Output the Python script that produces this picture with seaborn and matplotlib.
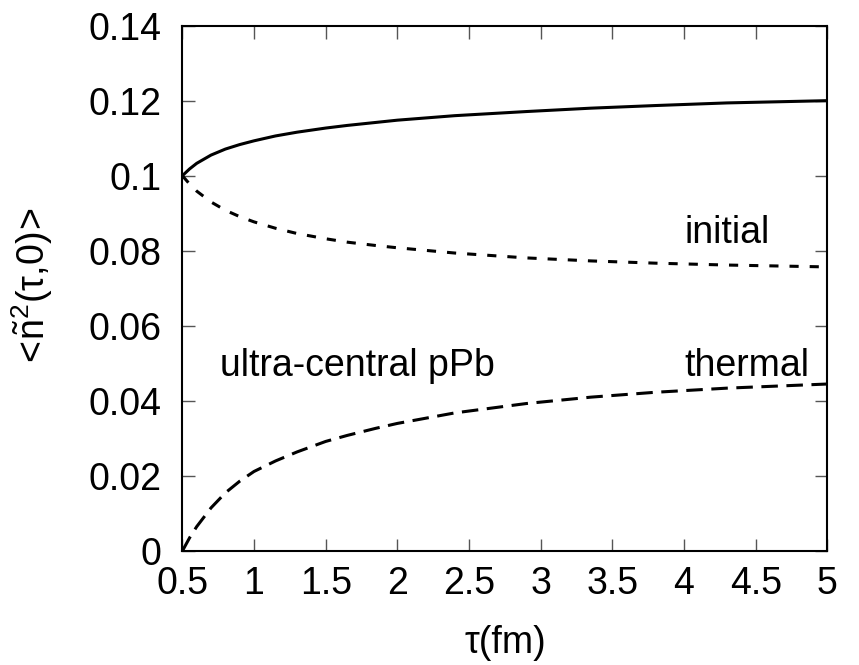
import matplotlib
matplotlib.use("Agg")
import matplotlib.pyplot as plt
import seaborn as sns
import pandas as pd

# proper time tau (fm) and the three contributions to <n~^2(tau,0)>
tau = [0.5, 0.55, 0.6, 0.7, 0.8, 0.9, 1.0, 1.15, 1.3, 1.5, 1.65, 1.85,
       2.0, 2.4, 2.9, 3.35, 3.8, 4.3, 5.0]
total = [0.1000, 0.1018, 0.1033, 0.1055, 0.1071, 0.1083, 0.1093, 0.1106,
         0.1116, 0.1127, 0.1134, 0.1142, 0.1148, 0.1160, 0.1171, 0.1180,
         0.1187, 0.1194, 0.1200]
initial = [0.1000, 0.0978, 0.0959, 0.0930, 0.0908, 0.0891, 0.0877, 0.0860,
           0.0846, 0.0832, 0.0823, 0.0814, 0.0808, 0.0794, 0.0781, 0.0773,
           0.0767, 0.0762, 0.0757]
thermal = [0.0000, 0.0035, 0.0065, 0.0115, 0.0155, 0.0186, 0.0212, 0.0240,
           0.0264, 0.0292, 0.0308, 0.0327, 0.0340, 0.0368, 0.0393, 0.0410,
           0.0423, 0.0434, 0.0445]

x_ticks = [0.5, 1, 1.5, 2, 2.5, 3, 3.5, 4, 4.5, 5]
x_tick_labels = ["0.5", "1", "1.5", "2", "2.5", "3", "3.5", "4", "4.5", "5"]
y_ticks = [0, 0.02, 0.04, 0.06, 0.08, 0.1, 0.12, 0.14]
y_tick_labels = ["0", "0.02", "0.04", "0.06", "0.08", "0.1", "0.12", "0.14"]

df = pd.DataFrame({"tau": tau, "total": total, "initial": initial, "thermal": thermal})

sns.set_theme(style="white")
plt.rcParams["font.family"] = ["Liberation Sans", "DejaVu Sans"]
plt.rcParams["mathtext.fontset"] = "custom"
plt.rcParams["mathtext.rm"] = "Liberation Sans"
plt.rcParams["mathtext.it"] = "Liberation Sans"
plt.rcParams["text.color"] = "black"
plt.rcParams["axes.labelcolor"] = "black"
plt.rcParams["xtick.labelcolor"] = "black"
plt.rcParams["ytick.labelcolor"] = "black"

fig = plt.figure(figsize=(8.59, 6.65), dpi=100)
ax = fig.add_axes([0.2123, 0.1714, 0.7509, 0.7901])

lw = 2.2
sns.lineplot(data=df, x="tau", y="total", ax=ax, color="black", lw=lw)
sns.lineplot(data=df, x="tau", y="initial", ax=ax, color="black", lw=lw)
sns.lineplot(data=df, x="tau", y="thermal", ax=ax, color="black", lw=lw)
ax.lines[1].set_dashes((3.0, 3.6))
ax.lines[2].set_dashes((5.4, 2.8))

ax.set_xlim(0.5, 5)
ax.set_ylim(0, 0.14)
ax.set_xticks(x_ticks)
ax.set_xticklabels(x_tick_labels)
ax.set_yticks(y_ticks)
ax.set_yticklabels(y_tick_labels)

fs = 27
ax.tick_params(axis="both", which="major", direction="in", length=9, width=1,
               color="#555555", labelcolor="black", labelsize=fs, top=True,
               right=True, bottom=True, left=True)
ax.tick_params(axis="x", pad=11)
ax.tick_params(axis="y", pad=15)
for s in ax.spines.values():
    s.set_color("black")
    s.set_linewidth(1.5)

ax.set_xlabel("τ(fm)", fontsize=fs, labelpad=16, color="black")
ax.set_ylabel(r"$\mathregular{<\!\tilde{n}^{2}(τ,\!0)\!>}$", fontsize=fs, color="black")
ax.yaxis.set_label_coords(-0.198, 0.5)

tfs = 27
ax.text(4.0, 0.0847, "initial", fontsize=tfs, ha="left", va="center", color="black")
ax.text(4.0, 0.0493, "thermal", fontsize=tfs, ha="left", va="center", color="black")
ax.text(0.76, 0.0493, "ultra-central pPb", fontsize=tfs, ha="left", va="center",
        color="black")

fig.savefig("out.png", dpi=100)
